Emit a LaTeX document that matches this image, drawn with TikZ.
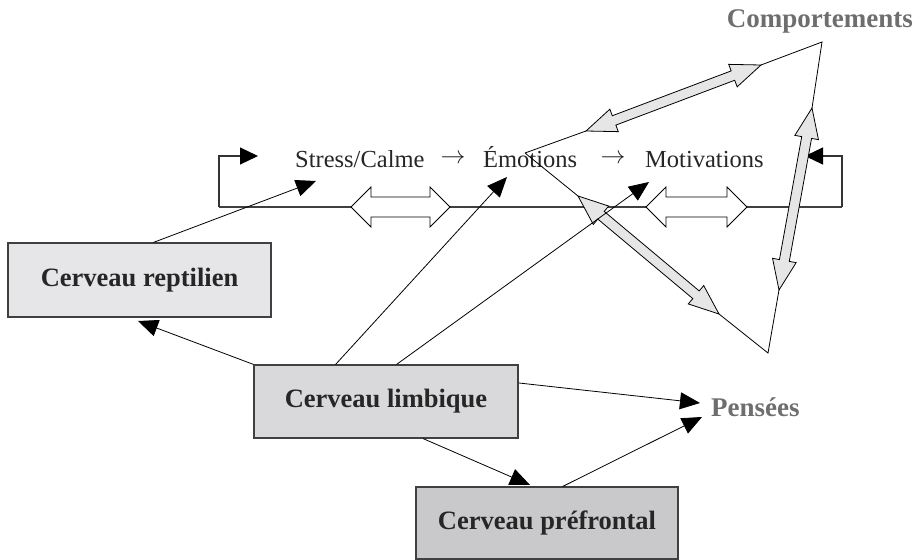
\documentclass[tikz,border=0pt]{standalone}
\usepackage{fontspec}
\setmainfont{Liberation Serif}
\usetikzlibrary{calc,arrows.meta}
\definecolor{boxA}{HTML}{E6E6E8}
\definecolor{boxB}{HTML}{D9D9DB}
\definecolor{boxC}{HTML}{C9C9CB}
\definecolor{labgray}{HTML}{6E6E6E}
\definecolor{dbl}{HTML}{E6E6E6}
\newcommand{\twoheaded}[6]{% A B headlen headhw shafthw fill
  \coordinate (da) at ($(#1)!#3!(#2)$);
  \coordinate (db) at ($(#2)!#3!(#1)$);
  \path[draw=black,line width=0.8pt,fill=#6]
   (#1) -- ($(da)!#4!90:(#2)$) -- ($(da)!#5!90:(#2)$) -- ($(db)!#5!-90:(#1)$)
   -- ($(db)!#4!-90:(#1)$) -- (#2) -- ($(db)!#4!90:(#1)$) -- ($(db)!#5!90:(#1)$)
   -- ($(da)!#5!-90:(#2)$) -- ($(da)!#4!-90:(#2)$) -- cycle;
}
\begin{document}
\begin{tikzpicture}[x=1pt,y=-1pt,
  brain/.style={draw=black!75,line width=1.2pt,inner sep=0pt,font=\bfseries\fontsize{26.5}{30}\selectfont,text=black!85},
  lbl/.style={font=\bfseries\fontsize{27}{30}\selectfont,text=labgray,inner sep=0pt},
  flow/.style={font=\fontsize{24.5}{28}\selectfont,text=black!85,inner sep=0pt},
  conn/.style={line width=0.8pt,-{Triangle[length=20pt,width=17pt]}},
  main/.style={line width=1.4pt,draw=black!75},
  loopar/.style={line width=1.2pt,draw=black!80,-{Triangle[length=18pt,width=17pt,fill=black,color=black]}},
  tri/.style={line width=0.8pt}
  ]
\useasboundingbox (0,0) rectangle (922,560);

% boxes
\node[brain,fill=boxA,minimum width=263pt,minimum height=74pt] (rep) at (139.5,280) {Cerveau reptilien};
\node[brain,fill=boxB,minimum width=264pt,minimum height=73pt] (lim) at (386,401.5) {Cerveau limbique};
\node[brain,fill=boxC,minimum width=262pt,minimum height=72pt] (pre) at (547,523) {Cerveau préfrontal};

% texts
\node[flow,anchor=base west] (stress) at (295,167) {Stress/Calme};
\node[flow] (ar1) at (453,159) {$\rightarrow$};
\node[flow,anchor=base west] (emo) at (483,167) {Émotions};
\node[flow] (ar2) at (613,159) {$\rightarrow$};
\node[flow,anchor=base west] (moti) at (645,167) {Motivations};
\node[lbl,anchor=base east] (comp) at (913,27) {Comportements};
\node[lbl,anchor=base west] (pens) at (711,416) {Pensées};

% main horizontal loop
\coordinate (hl) at (219,207);
\coordinate (hr) at (842,207);
\coordinate (lt) at (219,156);
\coordinate (rt) at (842,156);
\coordinate (ltip) at (258,156);
\coordinate (rtip) at (805,156);
\draw[main] (hl) -- (hr);
\draw[loopar] (hl) -- (lt) -- (ltip);
\draw[loopar] (hr) -- (rt) -- (rtip);

% hollow double arrows on the line
\coordinate (w1a) at (351,207); \coordinate (w1b) at (450,207);
\coordinate (w2a) at (646,207); \coordinate (w2b) at (747,207);
\twoheaded{w1a}{w1b}{20pt}{20pt}{10pt}{white}
\twoheaded{w2a}{w2b}{20pt}{20pt}{10pt}{white}

% triangle
\coordinate (tL) at (525,153);
\coordinate (tT) at (822,42);
\coordinate (tB) at (768,353);
\coordinate (e1a) at (586,131); \coordinate (e1b) at (761,65);
\coordinate (e2a) at (812,108); \coordinate (e2b) at (779,290);
\coordinate (e3a) at (578,196); \coordinate (e3b) at (719,314);
\draw[tri] (tL) -- (e1a) (e1b) -- (tT) -- (e2a) (e2b) -- (tB) -- (e3b) (e3a) -- (tL);
\twoheaded{e1a}{e1b}{30pt}{12pt}{5pt}{dbl}
\twoheaded{e2a}{e2b}{30pt}{12pt}{5pt}{dbl}
\twoheaded{e3a}{e3b}{30pt}{12pt}{5pt}{dbl}

% connectors
\coordinate (c1) at (316,181);
\coordinate (c2) at (507,177);
\coordinate (c3) at (649,182);
\coordinate (c4) at (138,321);
\coordinate (c5) at (700,403);
\coordinate (c6) at (702,417);
\coordinate (c7) at (530,485);
\draw[conn] (rep.north) ++(14,0) coordinate (r0) (r0) -- (c1);
\draw[conn] (lim.north west) -- (c4);
\draw[conn] ($(lim.north west)!0.31!(lim.north east)$) -- (c2);
\draw[conn] ($(lim.north west)!0.54!(lim.north east)$) -- (c3);
\draw[conn] ($(lim.north east)!0.25!(lim.south east)$) -- (c5);
\draw[conn] ($(lim.south west)!0.64!(lim.south east)$) -- (c7);
\draw[conn] ($(pre.north west)!0.56!(pre.north east)$) -- (c6);
\end{tikzpicture}
\end{document}
